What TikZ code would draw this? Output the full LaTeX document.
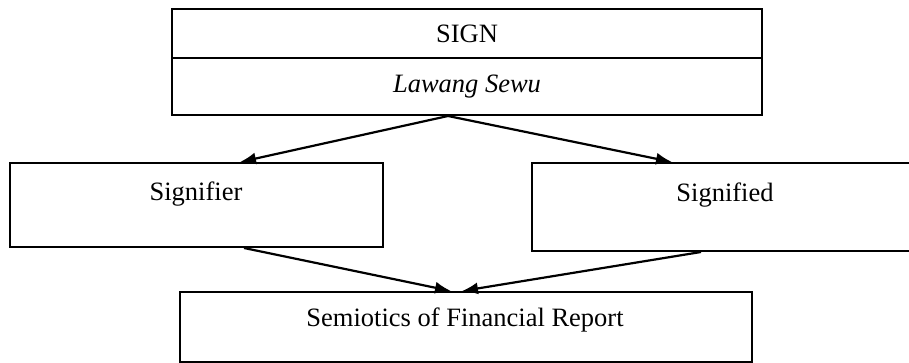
\documentclass[tikz,border=0pt]{standalone}
\usepackage{fontspec}
\setmainfont{Liberation Serif}
\usetikzlibrary{arrows.meta,calc}
\begin{document}
\begin{tikzpicture}[x=1pt,y=-1pt,
  box/.style={draw,line width=2pt,inner sep=0pt},
  lbl/.style={font=\fontsize{26.5}{30}\selectfont,inner sep=0pt},
  conn/.style={line width=2.2pt,-{Latex[length=16pt,width=12pt]}}]
\useasboundingbox (0,0) rectangle (909,363);
% top table
\node[box,lbl,minimum width=590pt,minimum height=49pt] (signhead) at (467,33.5) {SIGN};
\node[box,lbl,minimum width=590pt,minimum height=57pt] (lawang) at (467,86.5) {\textit{Lawang Sewu}};
% middle boxes
\node[box,minimum width=373pt,minimum height=84pt] (signifier) at (196.5,205) {};
\node[lbl] (signifiertext) at (196,194) {Signifier};
\node[box,minimum width=386pt,minimum height=88pt] (signified) at (725,207) {};
\node[lbl] (signifiedtext) at (725,195) {Signified};
% bottom box
\node[box,minimum width=572pt,minimum height=70pt] (report) at (466,327) {};
\node[lbl] (reporttext) at (465,320) {Semiotics of Financial Report};
% connectors
\draw[conn] ($(lawang.south)+(-19,0)$) -- ($(signifier.north)+(43.5,0)$);
\draw[conn] ($(lawang.south)+(-19,0)$) -- ($(signified.north)+(-53,0)$);
\draw[conn] ($(signifier.south)+(47.5,0)$) -- ($(report.north)+(-15,0)$);
\draw[conn] ($(signified.south)+(-24,0)$) -- ($(report.north)+(-4,0)$);
\end{tikzpicture}
\end{document}
